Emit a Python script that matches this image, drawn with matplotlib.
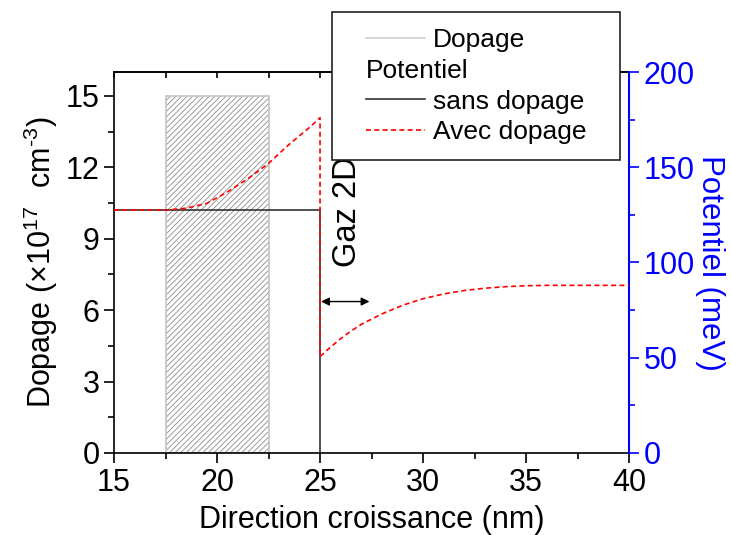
import matplotlib
matplotlib.use("Agg")
import matplotlib.pyplot as plt
from matplotlib.lines import Line2D
from matplotlib.patches import Rectangle
from matplotlib.ticker import MultipleLocator
import matplotlib.transforms as mtransforms

plt.rcParams['font.family'] = ['Liberation Sans', 'DejaVu Sans']
plt.rcParams['mathtext.fontset'] = 'custom'
plt.rcParams['mathtext.rm'] = 'Liberation Sans'
plt.rcParams['mathtext.default'] = 'regular'
plt.rcParams['hatch.linewidth'] = 0.6

# zone dopée (x en nm, dopage en 1e17 cm-3)
dop_x = [17.5, 22.5]
dop_val = 15

# potentiel sans dopage (meV)
x_sans = [15, 25, 25]
v_sans = [127.5, 127.5, 0]

# potentiel avec dopage (meV)
x_avec = [15, 17.5, 18.5, 19.5, 20.5, 21.5, 22.5, 23.5, 24.5, 25,
          25, 25.5, 26, 26.5, 27, 28, 29, 30, 31, 32, 33, 34, 35, 36, 38, 40]
v_avec = [127.5, 127.5, 128.5, 131, 137, 144, 152, 162, 171, 176,
          50.6, 55.5, 60, 64, 67.5, 73, 77.5, 81, 83.5, 85.3, 86.5, 87.3, 87.8, 88, 88, 88]

fig = plt.figure(figsize=(7.31, 5.35), dpi=100)
ax = fig.add_axes([0.156, 0.1533, 0.7045, 0.7121])
ax2 = ax.twinx()

# zone hachurée
ax.bar((dop_x[0] + dop_x[1]) / 2, dop_val, width=dop_x[1] - dop_x[0],
       color='white', edgecolor='#8c8c8c', hatch='//////', linewidth=0, zorder=1)
ax.bar((dop_x[0] + dop_x[1]) / 2, dop_val, width=dop_x[1] - dop_x[0],
       fill=False, edgecolor='#c4c4c4', linewidth=1.2, zorder=2)

ax.set_xlim(15, 40)
ax.set_ylim(0, 16)
ax.xaxis.set_major_locator(MultipleLocator(5))
ax.xaxis.set_minor_locator(MultipleLocator(2.5))
ax.yaxis.set_major_locator(MultipleLocator(3))
ax.yaxis.set_minor_locator(MultipleLocator(1.5))
ax.tick_params(which='major', direction='out', length=7, width=1.2, labelsize=22)
ax.tick_params(which='minor', direction='out', length=4, width=1.2)
ax.spines['right'].set_visible(False)
for s in ['left', 'bottom', 'top']:
    ax.spines[s].set_linewidth(1.2)
ax.set_xlabel('Direction croissance (nm)', fontsize=22, labelpad=5)
ax.set_ylabel('Dopage (×10$^{17}$$\\ $ cm$^{\\text{-}3}$)', fontsize=22, labelpad=4)

# ticks du haut vers l'intérieur
top = ax.secondary_xaxis('top')
top.xaxis.set_major_locator(MultipleLocator(2.5))
top.tick_params(direction='in', length=4, width=1.2, labeltop=False)
top.spines['top'].set_linewidth(1.2)

# potentiel
ax2.plot(x_sans, v_sans, color='#333333', lw=1.2, zorder=3)
ax2.plot(x_avec, v_avec, color='red', lw=1.2, ls=(0, (3, 2)), zorder=4)
ax2.set_ylim(0, 200)
ax2.yaxis.set_major_locator(MultipleLocator(50))
ax2.yaxis.set_minor_locator(MultipleLocator(25))
ax2.tick_params(which='major', direction='out', length=7, width=1.2,
                labelsize=22, colors='blue')
ax2.tick_params(which='minor', direction='out', length=4, width=1.2, colors='blue')
ax2.spines['right'].set_color('blue')
ax2.spines['right'].set_linewidth(1.5)
for s in ['left', 'bottom', 'top']:
    ax2.spines[s].set_visible(False)
ax2.set_ylabel('Potentiel (meV)', fontsize=22.5, color='blue', rotation=270, labelpad=22)

# Gaz 2D
ax.text(26.35, 10.15, 'Gaz 2D', rotation=90, fontsize=23.5, ha='center', va='center')
ax.annotate('', xy=(25.05, 6.36), xytext=(27.4, 6.36),
            arrowprops=dict(arrowstyle='<|-|>', color='black', lw=1.0,
                            mutation_scale=12, shrinkA=0, shrinkB=0))

# légende
fig.patches.append(Rectangle((332 / 731, 1 - 160 / 535), 288 / 731, 148 / 535,
                             transform=fig.transFigure, facecolor='white',
                             edgecolor='#222222', lw=1.2, zorder=6))
handles = [Line2D([], [], color='#d0d0d0', lw=1.2),
           Line2D([], [], color='none'),
           Line2D([], [], color='#333333', lw=1.2),
           Line2D([], [], color='red', lw=1.2, ls=(0, (3, 2)))]
labels = ['Dopage', 'Potentiel', 'sans dopage', 'Avec dopage']
hl, hp, fs = 2.25, 0.3, 19
leg = fig.legend(handles, labels, loc='upper left', bbox_to_anchor=(366 / 731, 0.948),
                 frameon=False, fontsize=fs, handlelength=hl, handletextpad=hp,
                 labelspacing=0.26, borderpad=0, borderaxespad=0)
leg.set_zorder(7)
t = leg.get_texts()[1]
shift = mtransforms.ScaledTranslation(-(hl + hp) * fs / 72, 0, fig.dpi_scale_trans)
t.set_transform(t.get_transform() + shift)

fig.savefig('out.png', dpi=100)
